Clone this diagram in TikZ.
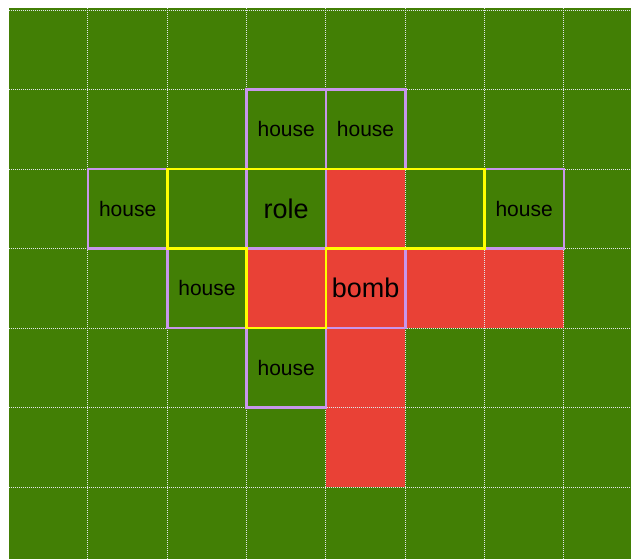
\documentclass[tikz,border=0pt]{standalone}
\usepackage{fontspec}
\setmainfont{Liberation Sans}
\definecolor{bggreen}{RGB}{66,127,5}
\definecolor{bombred}{RGB}{233,65,54}
\definecolor{lav}{RGB}{200,150,235}
\definecolor{yel}{RGB}{255,255,0}
\definecolor{gridc}{RGB}{225,230,235}
\begin{document}
\begin{tikzpicture}[x=79.3pt,y=-79.5pt,
  gridline/.style={draw=gridc,line width=1pt,dash pattern=on 1pt off 1pt},
  redcell/.style={fill=bombred},
  purplebox/.style={draw=lav,line width=2.6pt},
  yellowline/.style={draw=yel,line width=2.6pt,line join=miter},
  small/.style={font=\fontsize{21}{24}\selectfont,text=black,inner sep=0pt},
  big/.style={font=\fontsize{27}{30}\selectfont,text=black,inner sep=0pt}]
\useasboundingbox (-0.1097,-0.1258) rectangle (7.8474,6.9057);
% background
\fill[bggreen] (0,-0.025) rectangle (7.8474,6.9057);
% red cells
\foreach \c/\r in {4/2,3/3,4/3,5/3,6/3,4/4,4/5}
  \fill[redcell] (\c,\r) rectangle ++(1,1);
% grid
\foreach \c in {1,...,7}
  \draw[gridline] (\c,-0.025) -- (\c,6.9057);
\foreach \r in {0,...,6}
  \draw[gridline] (0,\r) -- (7.8474,\r);
% purple boxes: houses, role, bomb
\foreach \c/\r in {3/1,4/1,1/2,6/2,2/3,3/4,3/2,4/3}
  \draw[purplebox] (\c,\r) rectangle ++(1,1);
% yellow outline
\draw[yellowline] (2,2) -- (6,2) -- (6,3) -- (4,3) -- (4,4) -- (3,4) -- (3,3) -- (2,3) -- cycle;
% labels
\node[small] (h1) at (3.5,1.5) {house};
\node[small] (h2) at (4.5,1.5) {house};
\node[small] (h3) at (1.5,2.5) {house};
\node[small] (h4) at (6.5,2.5) {house};
\node[small] (h5) at (2.5,3.5) {house};
\node[small] (h6) at (3.5,4.5) {house};
\node[big] (role) at (3.5,2.5) {role};
\node[big] (bomb) at (4.5,3.5) {bomb};
\end{tikzpicture}
\end{document}
